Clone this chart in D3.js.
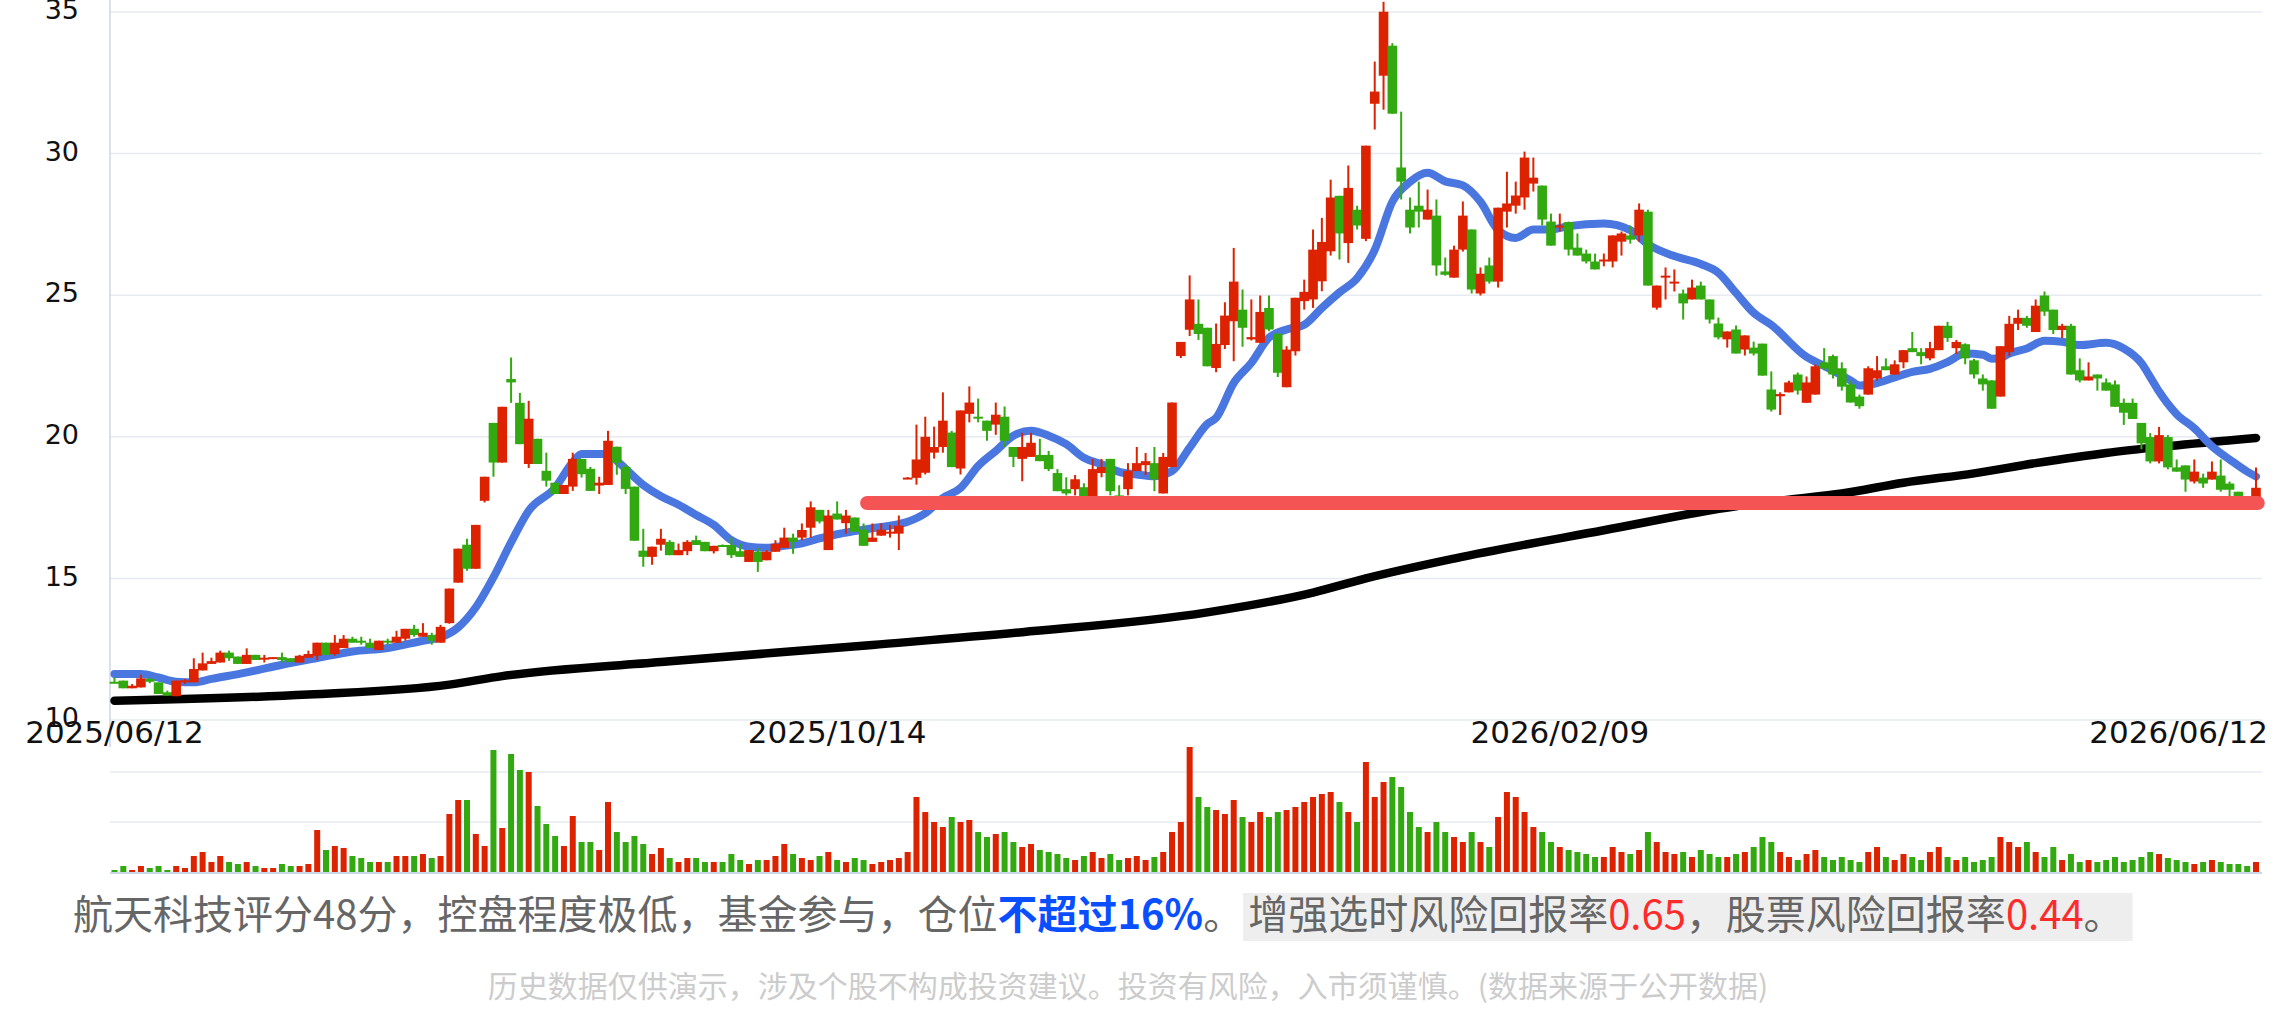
<!DOCTYPE html>
<html><head><meta charset="utf-8">
<script src="https://cdn.jsdelivr.net/npm/d3@7"></script>
<style>body{margin:0;background:#fff;}svg{display:block}</style>
</head><body>
<svg id="chart" width="2286" height="1014"></svg>
<script>
// ---------- DATA ----------
const opens = [11.35,11.39,11.12,11.15,11.45,11.33,10.98,10.84,11.33,11.33,11.75,11.98,12.03,12.38,12.24,11.98,12.3,12.15,12.15,12.22,12.18,12.03,12.2,12.27,12.73,12.33,12.54,12.87,12.8,12.73,12.47,12.8,12.73,12.87,13.22,12.94,13.0,12.73,13.42,14.85,16.19,15.34,17.74,20.49,19.09,22.04,21.2,19.04,19.93,18.8,18.38,17.98,18.24,19.22,18.87,18.28,18.3,19.65,18.94,18.24,15.98,15.76,16.19,
16.29,15.82,15.96,16.35,16.29,15.96,16.18,16.18,15.96,15.58,15.94,15.64,15.94,16.08,16.44,16.44,16.79,17.42,16.0,17.29,16.95,17.15,16.72,16.29,16.51,16.58,16.58,18.52,18.55,18.73,19.44,19.64,20.15,18.88,20.81,20.71,20.57,20.43,20.71,19.64,19.22,19.29,19.36,19.36,18.72,18.15,18.15,18.22,17.7,18.72,19.22,17.93,18.15,18.79,19.0,19.07,18.0,18.93,22.85,23.78,23.99,23.85,22.43,
23.24,24.08,24.49,23.44,23.32,24.55,23.64,21.75,23.02,24.79,24.85,25.49,26.55,28.51,26.84,28.02,26.99,31.76,32.75,33.81,29.51,28.02,28.16,27.67,27.81,25.84,25.62,26.61,27.32,25.06,26.05,25.48,27.95,28.16,28.45,28.94,28.87,27.6,27.39,27.58,26.68,26.47,26.19,26.19,26.19,26.89,27.11,27.11,27.95,24.56,25.62,25.41,25.06,24.85,25.34,24.85,24.0,23.44,23.79,23.08,23.15,23.29,21.67,
21.43,21.57,22.2,21.2,21.49,22.63,22.85,22.42,21.85,21.42,21.49,22.06,22.49,22.2,22.63,23.13,22.99,22.77,23.06,23.92,23.13,23.27,22.7,22.06,21.99,21.42,22.99,23.99,24.2,23.7,24.99,24.49,23.77,23.92,22.35,21.99,22.2,21.92,21.85,21.2,21.2,20.49,19.99,19.13,19.99,18.92,18.99,18.42,18.56,18.49,18.63,18.35,18.06,17.8,17.6];
const highs = [11.5,11.39,11.27,11.6,11.5,11.33,11.04,11.39,11.45,12.18,12.38,12.2,12.45,12.45,12.24,12.53,12.3,12.3,12.22,12.38,12.18,12.3,12.45,12.73,12.73,13.0,13.0,12.94,12.94,12.87,12.8,12.87,13.15,13.22,13.36,13.42,13.08,13.36,14.64,16.05,16.4,16.89,18.59,20.49,21.06,22.8,21.55,21.27,19.93,19.44,18.38,18.3,19.44,19.22,18.94,18.59,20.21,19.65,19.01,18.24,16.75,16.12,16.75,
16.35,16.23,16.35,16.51,16.29,16.15,16.2,16.44,16.23,16.0,16.08,16.0,16.35,16.79,16.58,16.94,17.72,17.42,17.42,17.72,17.42,17.15,16.94,16.94,16.94,16.89,17.22,18.58,20.43,20.71,20.36,21.57,20.21,20.93,21.78,21.35,20.57,21.21,21.07,19.64,20.14,20.14,19.93,19.5,18.86,18.57,18.65,18.36,19.22,19.22,19.22,18.29,19.07,19.64,19.43,19.64,19.43,21.21,23.35,25.7,24.85,23.85,24.0,
24.75,26.67,25.2,24.85,24.99,24.99,23.64,23.2,24.91,25.55,27.32,27.73,29.08,28.51,29.58,28.16,30.28,33.25,35.36,33.9,31.48,28.45,29.01,28.73,28.38,26.33,26.75,28.31,27.32,25.98,26.33,28.09,29.36,29.01,30.07,29.86,28.87,27.88,27.88,27.6,27.18,26.61,26.47,26.47,27.11,27.25,27.46,28.24,28.02,25.34,25.98,25.91,25.2,25.55,25.48,24.85,24.21,23.72,23.93,23.58,23.36,23.29,22.31,
21.57,21.98,22.27,22.13,22.56,23.13,22.9,22.63,21.99,21.49,22.49,22.85,22.77,22.7,23.06,23.7,23.13,23.35,23.92,24.06,23.42,23.3,22.75,22.2,22.0,23.2,24.27,24.49,24.27,24.85,25.13,24.49,23.99,23.99,22.77,22.63,22.2,22.06,21.99,21.35,21.35,20.49,20.13,20.35,20.06,19.2,18.99,19.2,18.7,19.13,19.2,18.42,18.06,17.85,18.92];
const lows = [11.3,11.12,11.12,11.15,11.3,10.92,10.86,10.84,11.27,11.33,11.75,11.98,12.03,12.09,11.98,11.98,12.12,12.03,12.15,12.03,12.05,12.03,12.2,12.12,12.3,12.27,12.54,12.73,12.66,12.54,12.47,12.66,12.73,12.8,12.94,12.94,12.66,12.73,13.4,14.85,15.27,15.34,17.68,18.59,19.09,21.2,19.74,18.9,19.04,18.24,17.98,17.98,18.09,18.56,18.09,17.98,18.3,18.66,17.98,16.33,15.41,15.48,15.98,
15.82,15.82,15.82,16.18,15.96,15.88,16.11,15.72,15.76,15.58,15.23,15.64,15.94,16.08,15.87,16.35,16.44,16.94,16.0,17.08,16.58,16.65,16.15,16.29,16.51,16.44,16.0,18.52,18.31,18.67,19.23,19.44,18.93,18.67,20.51,20.51,19.86,20.07,19.64,18.93,18.43,19.29,19.14,18.79,18.08,17.93,17.93,17.7,17.6,18.57,17.93,17.6,17.93,18.79,18.65,18.08,18.0,18.93,22.78,23.56,23.42,22.49,22.28,
23.1,22.67,23.18,23.4,23.32,23.73,22.11,21.75,22.87,24.49,24.55,25.14,26.4,26.26,26.14,27.32,26.91,30.85,31.55,31.4,28.38,27.18,27.39,27.67,25.69,25.69,25.62,26.54,25.06,24.99,25.41,25.27,27.39,27.88,28.02,28.66,27.46,26.75,27.25,26.4,26.4,26.12,25.91,26.02,25.98,26.4,26.82,26.89,25.34,24.49,24.85,25.13,24.14,24.85,24.85,24.0,23.44,23.15,22.94,22.87,22.87,22.16,20.89,
20.77,21.57,21.49,21.2,21.49,22.35,22.06,21.63,21.21,20.99,21.49,21.99,22.35,22.2,22.42,22.99,22.56,22.7,23.06,23.35,22.92,22.56,22.06,21.63,20.99,21.42,22.85,23.77,23.85,23.7,24.27,23.63,23.49,22.2,21.92,21.99,21.63,21.63,21.06,20.42,20.63,19.56,19.06,19.06,18.85,18.77,18.06,18.35,18.2,18.49,18.06,17.88,17.7,17.45,17.5];
const closes = [11.3,11.12,11.21,11.47,11.35,10.92,10.86,11.39,11.4,11.8,12.0,12.08,12.38,12.18,11.98,12.3,12.12,12.2,12.22,12.12,12.05,12.27,12.33,12.73,12.3,12.73,12.87,12.73,12.73,12.54,12.8,12.73,12.94,13.22,13.0,13.08,12.8,13.29,14.64,16.05,15.34,16.89,18.59,19.09,21.06,21.92,19.74,20.64,19.04,18.45,17.98,18.3,19.22,18.68,18.09,18.38,19.86,19.08,18.16,16.33,15.76,16.12,16.4,
15.82,16.0,16.29,16.18,15.96,16.15,16.11,15.82,15.76,16.0,15.58,15.94,16.22,16.44,16.29,16.71,17.51,17.01,17.22,17.08,17.22,16.65,16.15,16.44,16.72,16.65,16.86,18.56,19.2,20.0,19.64,20.57,18.93,20.93,21.21,20.64,20.21,20.78,19.86,19.29,19.64,19.79,19.14,18.86,18.08,18.0,18.5,17.8,18.86,18.93,18.08,17.75,18.79,19.07,19.14,18.5,19.29,21.21,23.35,24.85,23.63,22.49,23.28,
24.28,25.48,23.85,23.52,24.41,23.79,22.26,23.08,24.91,25.12,26.61,26.88,28.45,27.18,28.79,27.46,30.28,32.19,35.01,31.41,29.01,27.39,27.95,28.02,26.05,25.72,26.61,27.81,25.2,25.76,25.48,28.09,28.24,28.52,29.86,29.15,27.67,26.75,27.46,26.61,26.4,26.19,25.91,26.26,27.11,27.18,26.96,28.02,25.34,25.34,25.69,25.48,24.71,25.27,24.85,24.14,23.51,23.72,22.94,23.58,22.94,22.16,20.96,
21.51,21.92,21.63,21.92,22.49,22.42,22.2,21.77,21.21,21.08,22.42,22.35,22.35,22.56,23.06,22.99,22.85,23.13,23.92,23.49,23.35,22.77,22.2,21.85,20.99,23.2,23.99,24.2,23.92,24.63,24.42,23.77,23.92,22.2,21.99,22.13,22.06,21.63,21.06,20.85,20.63,19.77,19.13,20.06,18.92,18.77,18.49,18.77,18.35,18.77,18.13,18.13,17.85,17.55,18.2];
const volumes = [2,6,2,6,4,6,2,6,4,16,20,10,16,10,8,10,6,4,4,8,6,6,8,42,22,26,24,16,14,10,10,10,16,16,16,18,14,16,58,72,72,38,26,122,44,118,102,100,66,48,36,26,56,30,30,22,70,40,30,36,28,18,24,14,10,14,14,10,10,10,18,12,8,12,12,16,28,18,
14,12,16,20,12,10,14,12,8,10,12,14,
20,75,60,50,45,55,50,52,40,35,38,40,
30,25,28,22,20,18,14,12,16,20,14,18,12,14,16,12,15,20,
40,50,125,75,65,62,58,72,55,50,60,55,60,62,65,70,75,78,80,70,60,50,110,75,90,95,85,60,45,40,50,40,35,30,40,30,25,55,80,75,60,
45,40,30,25,22,20,18,15,15,25,20,18,22,40,30,20,18,20,15,22,18,15,15,18,20,25,35,30,20,15,12,18,22,15,12,15,12,10,20,25,
15,12,18,15,12,20,25,15,12,15,10,12,15,35,30,25,30,20,15,25,12,18,10,12,10,12,15,10,12,15,20,18,14,12,10,8,10,12,10,8,8,6,10];
// short moving average (blue), sampled [candle index, value]
const maShortIdx = [0,3,5,7,9,11,15,19,23,27,31,35,37,39,41,43,45,47,50,52,53,56,57,60,62,64,66,68,70,72,74,76,78,80,82,84,86,88,90,92,94,96,98,100,102,104,106,108,110,112,114,116,118,120,122,124,125,127,129,131,133,135,137,139,141,143,145,147,149,151,153,155,157,159,161,163,165,169,172,174,177,180,182,184,186,188,192,194,197,198,200,202,204,206,208,210,212,213,214,215,217,219,221,223,226,228,230,231,232,234,236,238,240,242,243];
const maShortVal = [11.62,11.62,11.5,11.35,11.33,11.45,11.68,11.95,12.19,12.42,12.54,12.8,12.92,13.27,13.98,15.04,16.27,17.39,18.2,19.1,19.39,19.39,19.15,18.3,17.9,17.6,17.24,16.89,16.35,16.12,16.08,16.15,16.24,16.41,16.56,16.67,16.77,16.86,17.0,17.3,17.84,18.19,18.97,19.5,20.04,20.21,20.04,19.74,19.26,19.03,18.76,18.67,18.61,18.79,19.62,20.45,20.67,21.9,22.61,23.5,23.79,23.96,24.55,25.1,25.6,26.6,28.3,29.0,29.32,29.02,28.88,28.3,27.3,27.02,27.32,27.32,27.44,27.53,27.3,26.8,26.38,26.1,25.79,25.08,24.38,23.95,22.82,22.5,21.99,21.81,21.9,22.1,22.29,22.4,22.64,22.94,22.9,22.76,22.78,22.94,23.12,23.39,23.36,23.24,23.32,23.12,22.6,22.11,21.6,20.8,20.3,19.67,19.2,18.77,18.6];
// long moving average (black)
const maLongIdx = [0,22,38,44,62,86,103,124,136,142,152,169,184,190,196,203,211,218,226,233,243];
const maLongVal = [10.68,10.9,11.25,11.55,12.05,12.65,13.1,13.8,14.5,15.0,15.7,16.7,17.55,17.78,18.0,18.38,18.71,19.07,19.43,19.67,19.96];
// support level (red)
const supportPrice = 17.66, supportFrom = 85.4, supportTo = 243.2;
const yTicks = [10,15,20,25,30,35];
const volGrid = [50,100];
const xTickIdx = [0,82,164,243];
const xTickLabels = ["2025/06/12","2025/10/14","2026/02/09","2026/06/12"];
const textA = "航天科技评分48分，控盘程度极低，基金参与，仓位";
const textBlue = "不超过16%";
const textB1 = "增强选时风险回报率", num1 = "0.65", textB2 = "，股票风险回报率", num2 = "0.44";
const footer = "历史数据仅供演示，涉及个股不构成投资建议。投资有风险，入市须谨慎。(数据来源于公开数据)";

// ---------- LAYOUT ----------
const svg = d3.select("#chart");
const plotL = 110, plotR = 2262;
const n = closes.length;
const x = d3.scaleLinear().domain([0, n-1]).range([114.5, 2256]);
const y = d3.scaleLinear().domain([10,35]).range([720,12]);
const yv = d3.scaleLinear().domain([0,150]).range([872,722]);
const RED = "#dd2200", GREEN = "#33a911";
const colorOf = i => closes[i] >= opens[i] ? RED : GREEN;

// grid
svg.append("g").selectAll("line").data(yTicks).join("line")
  .attr("x1", plotL).attr("x2", plotR).attr("y1", d=>y(d)).attr("y2", d=>y(d))
  .attr("stroke", "#e6eaf1").attr("stroke-width", 1.5);
svg.append("g").selectAll("line").data(volGrid).join("line")
  .attr("x1", plotL).attr("x2", plotR).attr("y1", d=>yv(d)).attr("y2", d=>yv(d))
  .attr("stroke", "#e6eaf1").attr("stroke-width", 1.5);
// axis lines
svg.append("line").attr("x1", plotL).attr("x2", plotL).attr("y1", 0).attr("y2", 747)
  .attr("stroke", "#ccd6eb").attr("stroke-width", 1.5);
svg.append("line").attr("x1", plotL).attr("x2", plotR).attr("y1", yv(0)+1).attr("y2", yv(0)+1)
  .attr("stroke", "#ccd6eb").attr("stroke-width", 2);

// y axis labels
const yAxis = d3.axisLeft(y).tickValues(yTicks).tickSize(0).tickPadding(31);
const ya = svg.append("g").attr("transform", `translate(${plotL},0)`).call(yAxis);
ya.select(".domain").remove();
ya.selectAll("text").attr("font-family", "DejaVu Sans").attr("font-size", 27).attr("fill", "#111").attr("dy", "0.25em");

// volume bars
const idx = d3.range(n);
svg.append("g").selectAll("rect").data(idx).join("rect")
  .attr("x", i => x(i) - 3).attr("width", 6)
  .attr("y", i => yv(volumes[i])).attr("height", i => yv(0) - yv(volumes[i]))
  .attr("fill", colorOf);

// moving averages
const lineGen = d3.line().x(d=>x(d[0])).y(d=>y(d[1])).curve(d3.curveMonotoneX);
svg.append("path").datum(maLongIdx.map((d,k)=>[d, maLongVal[k]])).attr("d", lineGen)
  .attr("fill","none").attr("stroke","#000").attr("stroke-width",8.5).attr("stroke-linecap","round");
svg.append("path").datum(maShortIdx.map((d,k)=>[d, maShortVal[k]])).attr("d", lineGen)
  .attr("fill","none").attr("stroke","#4a76e0").attr("stroke-width",8).attr("stroke-linecap","round").attr("stroke-linejoin","round");

// candles
const cg = svg.append("g");
cg.selectAll("line").data(idx).join("line")
  .attr("x1", i=>x(i)).attr("x2", i=>x(i)).attr("y1", i=>y(highs[i])).attr("y2", i=>y(lows[i]))
  .attr("stroke", colorOf).attr("stroke-width", 2);
cg.selectAll("rect").data(idx).join("rect")
  .attr("x", i=>x(i)-4.8).attr("width", 9.6)
  .attr("y", i=>y(Math.max(opens[i],closes[i])))
  .attr("height", i=>Math.max(2, Math.abs(y(opens[i])-y(closes[i]))))
  .attr("fill", colorOf);

// support line
svg.append("line").attr("x1", x(supportFrom)).attr("x2", x(supportTo))
  .attr("y1", y(supportPrice)).attr("y2", y(supportPrice))
  .attr("stroke", "#f55454").attr("stroke-width", 14).attr("stroke-linecap", "round");

// x labels
const xl = svg.append("g").attr("font-family","DejaVu Sans").attr("font-size",31).attr("fill","#111");
xTickIdx.forEach((d,k)=>{
  const last = k === xTickIdx.length-1;
  xl.append("text").attr("x", last ? 2268 : x(d)).attr("y", 743)
    .attr("text-anchor", last ? "end" : "middle").text(xTickLabels[k]);
});

// bottom texts
const fontCJK = "'Noto Sans CJK SC','Noto Sans',sans-serif";
const t1 = svg.append("text").attr("x", 73).attr("y", 929).attr("font-family", fontCJK).attr("font-size", 40).attr("fill", "#666");
t1.append("tspan").text(textA);
t1.append("tspan").attr("fill", "#0a4fff").attr("font-weight", "bold").text(textBlue);
t1.append("tspan").text("。");
const endX = 73 + t1.node().getComputedTextLength();
const boxG = svg.append("g");
const rect = boxG.append("rect").attr("x", endX).attr("y", 893).attr("height", 48).attr("fill", "#eeeeee");
const t2 = boxG.append("text").attr("x", endX + 5).attr("y", 929).attr("font-family", fontCJK).attr("font-size", 40).attr("fill", "#666");
t2.append("tspan").text(textB1);
t2.append("tspan").attr("fill", "#ff2a2a").text(num1);
t2.append("tspan").text(textB2);
t2.append("tspan").attr("fill", "#ff2a2a").text(num2);
t2.append("tspan").text("。");
rect.attr("width", t2.node().getComputedTextLength() + 14);
svg.append("text").attr("x", 1128).attr("y", 997).attr("text-anchor","middle")
  .attr("font-family", fontCJK).attr("font-size", 30).attr("fill", "#cccccc").text(footer);
</script>
</body></html>
